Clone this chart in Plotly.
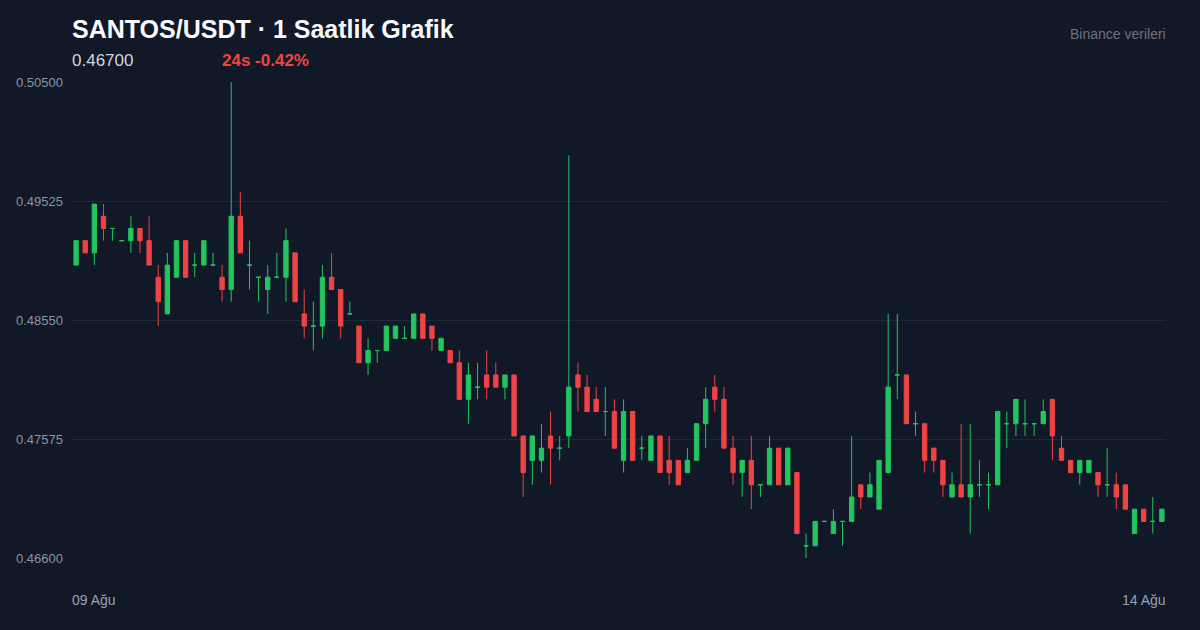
import plotly.graph_objects as go
import pandas as pd

# SANTOS/USDT hourly candles, 09-13 Aug
opens = [0.490, 0.492, 0.491, 0.494, 0.493, 0.492, 0.492, 0.493, 0.492, 0.489,
         0.486, 0.489, 0.492, 0.490, 0.490, 0.490, 0.489, 0.488, 0.494, 0.490,
         0.489, 0.488, 0.489, 0.489, 0.491, 0.486, 0.485, 0.485, 0.489, 0.488,
         0.486, 0.485, 0.482, 0.483, 0.483, 0.484, 0.484, 0.484, 0.486, 0.485,
         0.483, 0.483, 0.482, 0.479, 0.480, 0.481, 0.481, 0.480, 0.481, 0.476,
         0.474, 0.474, 0.476, 0.475, 0.476, 0.481, 0.480, 0.479, 0.478, 0.478,
         0.474, 0.478, 0.475, 0.474, 0.476, 0.474, 0.474, 0.473, 0.474, 0.477,
         0.480, 0.479, 0.475, 0.473, 0.474, 0.472, 0.472, 0.475, 0.472, 0.473,
         0.467, 0.467, 0.469, 0.468, 0.469, 0.469, 0.472, 0.471, 0.470, 0.473,
         0.481, 0.481, 0.477, 0.477, 0.475, 0.474, 0.471, 0.472, 0.471, 0.472,
         0.472, 0.472, 0.477, 0.477, 0.477, 0.477, 0.477, 0.479, 0.475, 0.474,
         0.473, 0.473, 0.473, 0.472, 0.472, 0.472, 0.468, 0.470, 0.469, 0.469]
highs = [0.492, 0.492, 0.495, 0.495, 0.493, 0.492, 0.494, 0.493, 0.494, 0.490,
         0.491, 0.492, 0.492, 0.491, 0.492, 0.491, 0.490, 0.505, 0.496, 0.492,
         0.489, 0.490, 0.491, 0.493, 0.491, 0.488, 0.487, 0.490, 0.491, 0.488,
         0.487, 0.485, 0.484, 0.483, 0.485, 0.485, 0.485, 0.486, 0.486, 0.485,
         0.484, 0.483, 0.483, 0.482, 0.482, 0.483, 0.482, 0.481, 0.481, 0.476,
         0.476, 0.477, 0.478, 0.476, 0.499, 0.482, 0.481, 0.480, 0.480, 0.479,
         0.479, 0.478, 0.476, 0.476, 0.476, 0.476, 0.474, 0.475, 0.477, 0.480,
         0.481, 0.480, 0.476, 0.474, 0.476, 0.472, 0.476, 0.475, 0.475, 0.473,
         0.468, 0.469, 0.469, 0.470, 0.469, 0.476, 0.472, 0.473, 0.474, 0.486,
         0.486, 0.481, 0.478, 0.477, 0.475, 0.474, 0.473, 0.477, 0.477, 0.474,
         0.473, 0.478, 0.478, 0.479, 0.479, 0.477, 0.479, 0.479, 0.476, 0.474,
         0.474, 0.474, 0.473, 0.475, 0.473, 0.472, 0.470, 0.470, 0.471, 0.470]
lows = [0.490, 0.491, 0.490, 0.492, 0.492, 0.492, 0.491, 0.491, 0.490, 0.485,
        0.486, 0.489, 0.489, 0.489, 0.490, 0.490, 0.487, 0.487, 0.491, 0.488,
        0.487, 0.486, 0.489, 0.487, 0.487, 0.484, 0.483, 0.484, 0.488, 0.484,
        0.486, 0.482, 0.481, 0.482, 0.483, 0.484, 0.484, 0.484, 0.484, 0.483,
        0.483, 0.482, 0.479, 0.477, 0.479, 0.479, 0.480, 0.479, 0.476, 0.471,
        0.472, 0.473, 0.472, 0.474, 0.475, 0.478, 0.478, 0.478, 0.476, 0.475,
        0.473, 0.474, 0.474, 0.474, 0.473, 0.472, 0.472, 0.473, 0.474, 0.475,
        0.478, 0.475, 0.472, 0.471, 0.470, 0.471, 0.472, 0.472, 0.472, 0.468,
        0.466, 0.467, 0.469, 0.468, 0.467, 0.469, 0.470, 0.471, 0.470, 0.473,
        0.479, 0.477, 0.476, 0.473, 0.473, 0.471, 0.471, 0.471, 0.468, 0.471,
        0.470, 0.472, 0.475, 0.476, 0.476, 0.476, 0.477, 0.474, 0.474, 0.473,
        0.472, 0.473, 0.471, 0.471, 0.470, 0.470, 0.468, 0.469, 0.468, 0.469]
closes = [0.492, 0.491, 0.495, 0.493, 0.493, 0.492, 0.493, 0.492, 0.490, 0.487,
          0.490, 0.492, 0.489, 0.490, 0.492, 0.490, 0.488, 0.494, 0.491, 0.490,
          0.489, 0.489, 0.489, 0.492, 0.487, 0.485, 0.485, 0.489, 0.488, 0.485,
          0.486, 0.482, 0.483, 0.483, 0.485, 0.485, 0.484, 0.486, 0.484, 0.484,
          0.484, 0.482, 0.479, 0.481, 0.480, 0.480, 0.480, 0.481, 0.476, 0.473,
          0.476, 0.475, 0.475, 0.475, 0.480, 0.480, 0.478, 0.478, 0.478, 0.475,
          0.478, 0.474, 0.475, 0.476, 0.473, 0.473, 0.472, 0.474, 0.477, 0.479,
          0.479, 0.475, 0.473, 0.474, 0.472, 0.472, 0.475, 0.472, 0.475, 0.468,
          0.467, 0.469, 0.469, 0.469, 0.469, 0.471, 0.471, 0.472, 0.474, 0.480,
          0.481, 0.477, 0.477, 0.474, 0.474, 0.472, 0.472, 0.471, 0.472, 0.472,
          0.472, 0.478, 0.477, 0.479, 0.477, 0.477, 0.478, 0.476, 0.474, 0.473,
          0.474, 0.474, 0.472, 0.472, 0.471, 0.470, 0.470, 0.469, 0.469, 0.470]

times = pd.date_range("2024-08-09 00:00", periods=len(opens), freq="h")
y_ticks = [0.466, 0.47575, 0.4855, 0.49525, 0.505]
date_labels = ["09 Ağu", "14 Ağu"]

GREEN = "#22c55e"
RED = "#ef4444"
BG = "#111827"
FONT = "Liberation Sans, Arial, sans-serif"

fig = go.Figure()

# split into up / down so that flat candles stay green
for up, color in [(True, GREEN), (False, RED)]:
    idx = [i for i in range(len(opens)) if (closes[i] >= opens[i]) == up]
    fig.add_trace(go.Candlestick(
        x=[times[i] for i in idx],
        open=[opens[i] for i in idx],
        high=[highs[i] for i in idx],
        low=[lows[i] for i in idx],
        close=[closes[i] for i in idx],
        increasing=dict(line=dict(color=color, width=1), fillcolor=color),
        decreasing=dict(line=dict(color=color, width=1), fillcolor=color),
        whiskerwidth=0,
        hoverinfo="skip",
        showlegend=False,
    ))

half = pd.Timedelta(minutes=27)
fig.update_xaxes(
    range=[times[0] - half, times[-1] + half],
    rangeslider_visible=False,
    showgrid=False, zeroline=False, showline=False,
    showticklabels=False,
)
fig.update_yaxes(
    range=[0.466, 0.505],
    tickvals=y_ticks,
    tickformat=".5f",
    gridcolor="#1f2937", gridwidth=1,
    zeroline=False, showline=False,
    tickfont=dict(size=13, color="#8b95a5", family=FONT),
    ticklabelstandoff=8,
)

annotations = [
    dict(text="<b>SANTOS/USDT · 1 Saatlik Grafik</b>", x=0, y=1.111,
         xanchor="left", yanchor="middle", xshift=-2,
         font=dict(size=25, color="#f9fafb", family=FONT)),
    dict(text="0.46700", x=0, y=1.046, xanchor="left", yanchor="middle", xshift=-2,
         font=dict(size=17, color="#d1d5db", family=FONT)),
    dict(text="<b>24s -0.42%</b>", x=0.137, y=1.046, xanchor="left", yanchor="middle",
         xshift=-2, font=dict(size=17, color=RED, family=FONT)),
    dict(text="Binance verileri", x=1, y=1.101, xanchor="right", yanchor="middle",
         xshift=2, font=dict(size=14, color="#6b7280", family=FONT)),
    dict(text=date_labels[0], x=0, y=-0.088, xanchor="left", yanchor="middle",
         xshift=-2, font=dict(size=14, color="#94a3b8", family=FONT)),
    dict(text=date_labels[1], x=1, y=-0.088, xanchor="right", yanchor="middle",
         xshift=2, font=dict(size=14, color="#94a3b8", family=FONT)),
]
for a in annotations:
    a.update(xref="paper", yref="paper", showarrow=False)

fig.update_layout(
    width=1200, height=630,
    margin=dict(l=72, r=34, t=82, b=72),
    paper_bgcolor=BG, plot_bgcolor=BG,
    font=dict(family=FONT),
    annotations=annotations,
    hovermode=False,
    boxgap=0.32,
)

fig.write_html(
    "out.html",
    config={"displayModeBar": False},
    post_script="document.body.style.margin='0';document.body.style.background='#111827';",
)
